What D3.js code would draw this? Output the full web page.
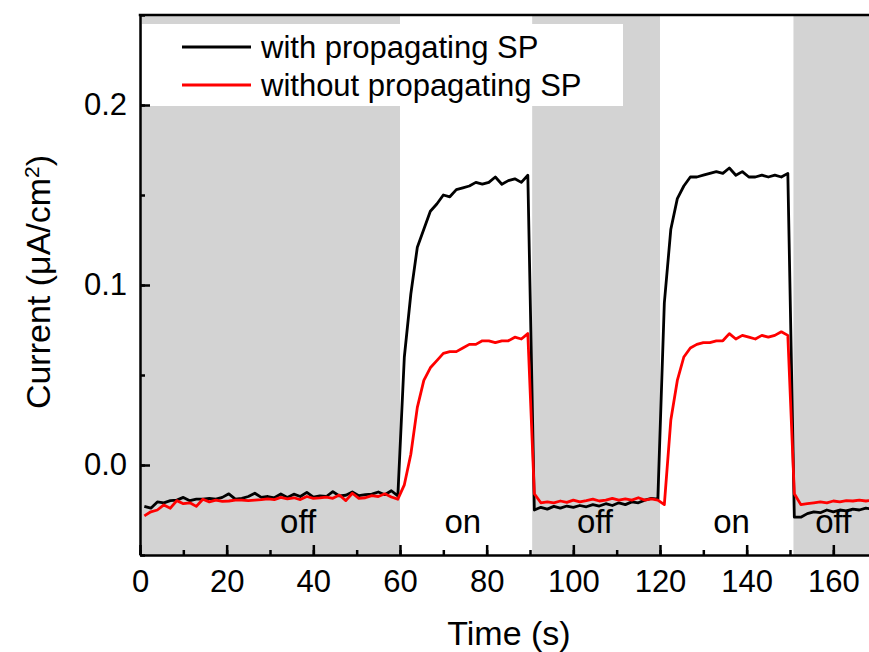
<!DOCTYPE html>
<html>
<head>
<meta charset="utf-8">
<script src="https://cdn.jsdelivr.net/npm/d3@7"></script>
<style>
  body { margin: 0; background: #fff; }
  text { font-family: Arial, "Liberation Sans", sans-serif; fill: #000; }
</style>
</head>
<body>
<script>
// time (s), one sample every 1.5 s
const times = [
  1, 2.5, 4, 5.5, 7, 8.5, 10, 11.5, 13, 14.5,
  16, 17.5, 19, 20.5, 22, 23.5, 25, 26.5, 28, 29.5,
  31, 32.5, 34, 35.5, 37, 38.5, 40, 41.5, 43, 44.5,
  46, 47.5, 49, 50.5, 52, 53.5, 55, 56.5, 58, 59.5,
  61, 62.5, 64, 65.5, 67, 68.5, 70, 71.5, 73, 74.5,
  76, 77.5, 79, 80.5, 82, 83.5, 85, 86.5, 88, 89.5,
  91, 92.5, 94, 95.5, 97, 98.5, 100, 101.5, 103, 104.5,
  106, 107.5, 109, 110.5, 112, 113.5, 115, 116.5, 118, 119.5,
  121, 122.5, 124, 125.5, 127, 128.5, 130, 131.5, 133, 134.5,
  136, 137.5, 139, 140.5, 142, 143.5, 145, 146.5, 148, 149.5,
  151, 152.5, 154, 155.5, 157, 158.5, 160, 161.5, 163, 164.5,
  166, 167.5, 169
];

const withSP = [
  // off
  -0.023, -0.024, -0.0205, -0.021, -0.0198, -0.0195, -0.018, -0.0198, -0.019, -0.019,
  -0.0185, -0.019, -0.018, -0.016, -0.019, -0.0185, -0.0175, -0.0157, -0.018, -0.0175,
  -0.0182, -0.0161, -0.018, -0.0162, -0.0175, -0.0152, -0.0178, -0.0172, -0.0175, -0.0148,
  -0.0172, -0.0168, -0.015, -0.017, -0.0165, -0.0162, -0.015, -0.0165, -0.0143, -0.0172,
  // on
  0.060, 0.095, 0.121, 0.131, 0.141, 0.145, 0.150, 0.149, 0.153, 0.154,
  0.155, 0.157, 0.156, 0.157, 0.160, 0.156, 0.158, 0.159, 0.157, 0.161,
  // off
  -0.025, -0.0235, -0.0245, -0.023, -0.024, -0.0228, -0.0235, -0.0225, -0.0232, -0.022,
  -0.0228, -0.0215, -0.0225, -0.021, -0.022, -0.0205, -0.021, -0.0195, -0.0185, -0.019,
  // on
  0.090, 0.131, 0.148, 0.155, 0.160, 0.160, 0.161, 0.162, 0.163, 0.162,
  0.165, 0.161, 0.163, 0.160, 0.160, 0.161, 0.160, 0.161, 0.160, 0.162,
  // off
  -0.029, -0.029, -0.027, -0.026, -0.0265, -0.025, -0.026, -0.025, -0.0255, -0.0245,
  -0.025, -0.024, -0.0245
];

const withoutSP = [
  -0.0283, -0.026, -0.025, -0.0222, -0.024, -0.0198, -0.0215, -0.021, -0.023, -0.019,
  -0.0205, -0.0195, -0.0202, -0.020, -0.0195, -0.0195, -0.0198, -0.0195, -0.0192, -0.0188,
  -0.0192, -0.018, -0.0188, -0.0182, -0.0192, -0.0175, -0.0185, -0.0183, -0.0178, -0.0185,
  -0.0167, -0.0198, -0.0157, -0.0185, -0.0182, -0.017, -0.0175, -0.016, -0.0178, -0.019,
  -0.011, 0.006, 0.032, 0.047, 0.054, 0.058, 0.062, 0.063, 0.063, 0.065,
  0.067, 0.067, 0.069, 0.069, 0.068, 0.069, 0.069, 0.071, 0.070, 0.073,
  -0.016, -0.021, -0.0205, -0.021, -0.020, -0.0208, -0.0195, -0.0205, -0.0198, -0.019,
  -0.020, -0.0195, -0.0185, -0.0195, -0.0188, -0.0195, -0.0182, -0.0195, -0.0188, -0.0195,
  -0.022, 0.025, 0.047, 0.060, 0.065, 0.067, 0.068, 0.068, 0.069, 0.069,
  0.073, 0.070, 0.072, 0.071, 0.070, 0.072, 0.071, 0.072, 0.074, 0.072,
  -0.016, -0.022, -0.0215, -0.021, -0.0205, -0.021, -0.020, -0.0205, -0.0198, -0.020,
  -0.0195, -0.020, -0.0195
];

// light-off intervals (s) and the state labels
const offBands = [[0, 60], [90.5, 120], [150.8, 180]];
const stateLabels = [
  { t: 36.5, text: "off" }, { t: 74.5, text: "on" },
  { t: 105, text: "off" }, { t: 136.5, text: "on" }, { t: 160, text: "off" }
];

const xTicks = [0, 20, 40, 60, 80, 100, 120, 140, 160];
const xMinor = [0, 10, 20, 30, 40, 50, 60, 70, 80, 90, 100, 110, 120, 130, 140, 150, 160, 170];
const yTicks = [0, 0.1, 0.2];
const yMinor = [-0.05, 0, 0.05, 0.1, 0.15, 0.2, 0.25];

const series = [
  { name: "with propagating SP", values: withSP, color: "#000000" },
  { name: "without propagating SP", values: withoutSP, color: "#ff0000" }
];

const W = 869, H = 652;
const m = { left: 140, top: 15, bottom: 555 };

const x = d3.scaleLinear().domain([0, 170]).range([m.left, m.left + 170 * 4.3333]);
const y = d3.scaleLinear().domain([-0.05, 0.25]).range([m.bottom, m.top]);

const svg = d3.select("body").append("svg")
    .attr("width", W)
    .attr("height", H);

svg.append("clipPath").attr("id", "plot")
  .append("rect")
    .attr("x", m.left).attr("y", m.top)
    .attr("width", x(170) - m.left).attr("height", m.bottom - m.top);

const plot = svg.append("g").attr("clip-path", "url(#plot)");

plot.selectAll("rect.band")
  .data(offBands)
  .enter().append("rect")
    .attr("class", "band")
    .attr("x", d => x(d[0]))
    .attr("y", m.top)
    .attr("width", d => x(d[1]) - x(d[0]))
    .attr("height", m.bottom - m.top)
    .attr("fill", "#d3d3d3");

// legend box sits over the shading
const legend = svg.append("g");
legend.append("rect")
    .attr("x", m.left + 2).attr("y", 24)
    .attr("width", 481).attr("height", 82)
    .attr("fill", "#fff");

legend.selectAll("g.item")
  .data(series)
  .enter().append("g")
    .attr("class", "item")
    .attr("transform", (d, i) => "translate(0," + (47 + i * 38) + ")")
    .each(function(d) {
      const g = d3.select(this);
      g.append("line")
        .attr("x1", 182).attr("x2", 251)
        .attr("stroke", d.color).attr("stroke-width", 2.8);
      g.append("text")
        .attr("x", 261).attr("dy", "0.35em")
        .attr("font-size", 31)
        .text(d.name);
    });

plot.selectAll("text.state")
  .data(stateLabels)
  .enter().append("text")
    .attr("class", "state")
    .attr("x", d => x(d.t))
    .attr("y", 533)
    .attr("text-anchor", "middle")
    .attr("font-size", 33)
    .text(d => d.text);

const line = d3.line()
    .x((d, i) => x(times[i]))
    .y(d => y(d));

plot.selectAll("path.trace")
  .data(series)
  .enter().append("path")
    .attr("class", "trace")
    .attr("d", d => line(d.values))
    .attr("fill", "none")
    .attr("stroke", d => d.color)
    .attr("stroke-width", 2.8)
    .attr("stroke-linejoin", "round");

// axes, ticks pointing inward
svg.append("g")
    .attr("transform", "translate(0," + m.bottom + ")")
    .call(d3.axisBottom(x).tickValues(xMinor).tickSize(-5).tickFormat(""))
    .call(g => g.select(".domain").remove());

svg.append("g")
    .attr("transform", "translate(0," + m.bottom + ")")
    .call(d3.axisBottom(x).tickValues(xTicks).tickSizeInner(-10).tickSizeOuter(0).tickPadding(15))
    .call(g => g.select(".domain").attr("stroke-width", 2.5))
    .call(g => g.selectAll("text").attr("font-size", 31).attr("font-family", null));

svg.append("g")
    .attr("transform", "translate(" + m.left + ",0)")
    .call(d3.axisLeft(y).tickValues(yMinor).tickSize(-5).tickFormat(""))
    .call(g => g.select(".domain").remove());

svg.append("g")
    .attr("transform", "translate(" + m.left + ",0)")
    .call(d3.axisLeft(y).tickValues(yTicks).tickFormat(d3.format(".1f"))
      .tickSizeInner(-10).tickSizeOuter(0).tickPadding(13))
    .call(g => g.select(".domain").attr("stroke-width", 2.5))
    .call(g => g.selectAll("text").attr("font-size", 31).attr("font-family", null));

svg.selectAll(".tick line").attr("stroke-width", 2.5);

svg.append("line")
    .attr("x1", m.left - 1.25).attr("x2", W)
    .attr("y1", m.top).attr("y2", m.top)
    .attr("stroke", "#000").attr("stroke-width", 2.5);

svg.append("text")
    .attr("x", 509).attr("y", 645)
    .attr("text-anchor", "middle")
    .attr("font-size", 34)
    .text("Time (s)");

const yTitle = svg.append("text")
    .attr("transform", "translate(50,282) rotate(-90)")
    .attr("text-anchor", "middle")
    .attr("font-size", 34);
yTitle.append("tspan").text("Current (μA/cm");
yTitle.append("tspan").attr("font-size", 21).attr("baseline-shift", "super").text("2");
yTitle.append("tspan").text(")");
</script>
</body>
</html>
